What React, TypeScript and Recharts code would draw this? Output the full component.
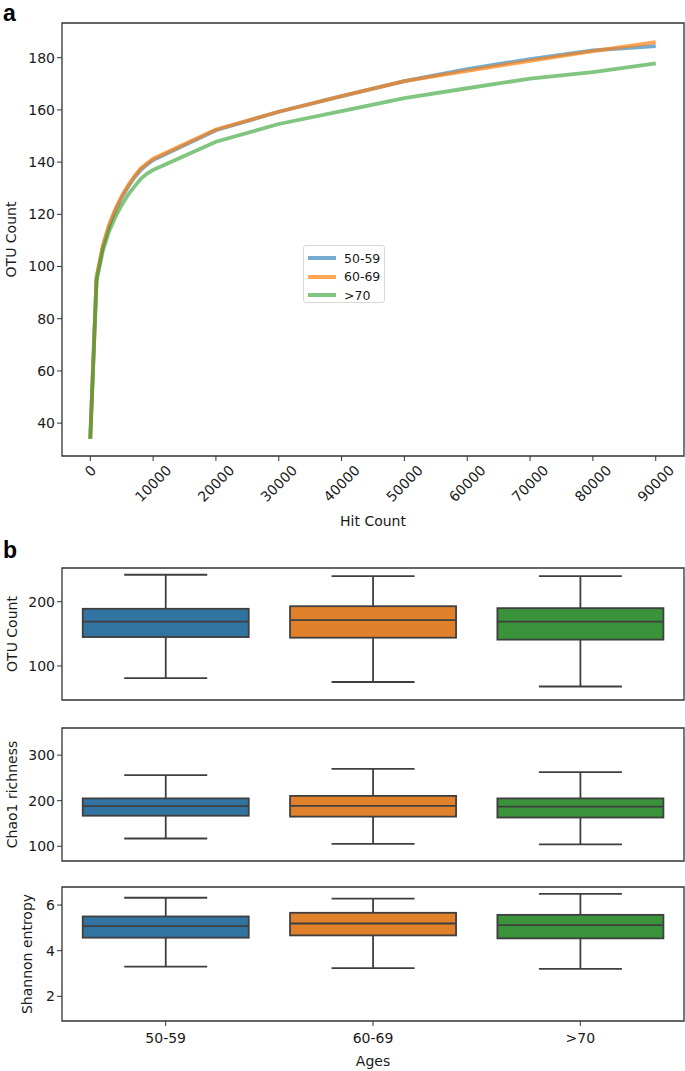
import React from 'react';
import {
  LineChart, Line, XAxis, YAxis, ReferenceArea, Legend,
  ComposedChart, Bar, Label,
} from 'recharts';

// ---------- Panel a: rarefaction curves ----------
const hitCounts = [0, 1000, 2000, 3000, 4000, 5000, 6000, 7000, 8000, 9000, 10000,
  20000, 30000, 40000, 50000, 60000, 70000, 80000, 90000];
const otu5059 = [34, 95.5, 107.5, 115.5, 121.5, 126.5, 130.5, 134, 137, 139, 140.8,
  152.2, 159.3, 165.3, 171, 175.6, 179.5, 182.8, 184.4];
const otu6069 = [34, 96, 108, 116, 122, 127, 131, 134.5, 137.5, 139.5, 141.3,
  152.5, 159.3, 165.3, 171, 175, 178.8, 182.5, 186];
const otu70 = [34, 94.5, 106, 113.5, 119, 123.5, 127.5, 130.5, 133.5, 135.5, 137,
  147.8, 154.6, 159.5, 164.5, 168.3, 172, 174.5, 177.8];
const hitTicks = [0, 10000, 20000, 30000, 40000, 50000, 60000, 70000, 80000, 90000];
const otuTicksA = [40, 60, 80, 100, 120, 140, 160, 180];
const seriesNames = ['50-59', '60-69', '>70'];

// ---------- Panel b: box plots ----------
const ageGroups = ['50-59', '60-69', '>70'];
const otuLow = [81, 75, 68];
const otuQ1 = [145, 144, 141];
const otuMedian = [169, 171.4, 169];
const otuQ3 = [189, 193, 190];
const otuHigh = [242, 240, 240];
const otuTicksB = [100, 200];

const chaoLow = [117, 105, 104];
const chaoQ1 = [167, 165, 163];
const chaoMedian = [188, 188.5, 187];
const chaoQ3 = [205, 210.5, 205];
const chaoHigh = [256, 270, 262.5];
const chaoTicks = [100, 200, 300];

const shanLow = [3.3, 3.24, 3.2];
const shanQ1 = [4.57, 4.67, 4.54];
const shanMedian = [5.08, 5.19, 5.12];
const shanQ3 = [5.5, 5.66, 5.57];
const shanHigh = [6.32, 6.28, 6.49];
const shanTicks = [2, 4, 6];

// ---------- styles ----------
const FONT = 'DejaVu Sans';
const FS = 14;
const TXT = '#1a1a1a';
const EDGE = '#333333';
const lineColors = ['#1f77b4', '#ff7f0e', '#2ca02c'];
const lineOpacity = [0.62, 0.7, 0.6];
const boxColors = ['#3274a1', '#e1812c', '#3a923a'];
const BOX_EDGE = '#3f3f3f';

const lineData = hitCounts.map((h, i) => ({
  hit: h, a: otu5059[i], b: otu6069[i], c: otu70[i],
}));

function buildBoxData(low: number[], q1: number[], med: number[], q3: number[], high: number[]) {
  return ageGroups.map((g, i) => ({
    age: g,
    range: [low[i], high[i]],
    stats: [low[i], q1[i], med[i], q3[i], high[i]],
  }));
}

const otuData = buildBoxData(otuLow, otuQ1, otuMedian, otuQ3, otuHigh);
const chaoData = buildBoxData(chaoLow, chaoQ1, chaoMedian, chaoQ3, chaoHigh);
const shanData = buildBoxData(shanLow, shanQ1, shanMedian, shanQ3, shanHigh);

const BoxShape = (props: any) => {
  const { x, y, width, height, index, payload } = props;
  if (!payload || x == null) return null;
  const [lo, q1, med, q3, hi] = payload.stats;
  const top = Math.min(y, y + height);
  const bot = Math.max(y, y + height);
  const py = (v: number) => bot - ((bot - top) * (v - lo)) / (hi - lo);
  const cx = x + width / 2;
  const capHalf = width / 4;
  const sw = 1.8;
  return (
    <g>
      <line x1={cx} x2={cx} y1={py(hi)} y2={py(q3)} stroke={BOX_EDGE} strokeWidth={sw} />
      <line x1={cx} x2={cx} y1={py(q1)} y2={py(lo)} stroke={BOX_EDGE} strokeWidth={sw} />
      <line x1={cx - capHalf} x2={cx + capHalf} y1={py(hi)} y2={py(hi)} stroke={BOX_EDGE} strokeWidth={sw} />
      <line x1={cx - capHalf} x2={cx + capHalf} y1={py(lo)} y2={py(lo)} stroke={BOX_EDGE} strokeWidth={sw} />
      <rect x={x} y={py(q3)} width={width} height={py(q1) - py(q3)}
        fill={boxColors[index % boxColors.length]} stroke={BOX_EDGE} strokeWidth={sw} />
      <line x1={x} x2={x + width} y1={py(med)} y2={py(med)} stroke={BOX_EDGE} strokeWidth={sw} />
    </g>
  );
};

const RotatedTick = (props: any) => {
  const { x, y, payload } = props;
  const s = String(payload.value);
  const w = s.length * 0.636 * FS;
  const h = (w + FS * 0.75) * Math.SQRT1_2;
  return (
    <text
      transform={`translate(${x},${y + h / 2}) rotate(-45)`}
      textAnchor="middle"
      dominantBaseline="central"
      fontFamily={FONT}
      fontSize={FS}
      fill={TXT}
    >
      {s}
    </text>
  );
};

const yTitle = (text: string, cx: number) => (p: any) => {
  const vb = p.viewBox || {};
  const cy = (vb.y || 0) + (vb.height || 0) / 2;
  return (
    <text
      transform={`translate(${cx},${cy}) rotate(-90)`}
      textAnchor="middle"
      dominantBaseline="central"
      fontFamily={FONT}
      fontSize={FS}
      fill={TXT}
    >
      {text}
    </text>
  );
};

const xTitle = (text: string, dy: number) => (p: any) => {
  const vb = p.viewBox || {};
  const cx = (vb.x || 0) + (vb.width || 0) / 2;
  return (
    <text
      x={cx}
      y={(vb.y || 0) + dy}
      textAnchor="middle"
      dominantBaseline="central"
      fontFamily={FONT}
      fontSize={FS}
      fill={TXT}
    >
      {text}
    </text>
  );
};

const LegendBox = () => (
  <div
    style={{
      width: 82,
      height: 58,
      border: '1px solid #d9d9d9',
      borderRadius: 3,
      background: 'rgba(255,255,255,0.8)',
      boxSizing: 'border-box',
      padding: '3px 0 0 4px',
      fontFamily: FONT,
      fontSize: 12.5,
      color: TXT,
    }}
  >
    {seriesNames.map((n, i) => (
      <div key={n} style={{ display: 'flex', alignItems: 'center', height: 18.5 }}>
        <div
          style={{
            width: 28,
            height: 4,
            background: lineColors[i],
            opacity: lineOpacity[i],
            marginRight: 8,
          }}
        />
        <span>{n}</span>
      </div>
    ))}
  </div>
);

const tickStyle = { fontFamily: FONT, fontSize: FS, fill: TXT };

function BoxPanel(props: {
  data: any[]; domain: [number, number]; ticks: number[]; title: string; titleX: number;
  top: number; height: number; showX: boolean;
}) {
  const { data, domain, ticks, title, titleX, top, height, showX } = props;
  return (
    <div style={{ position: 'absolute', left: 0, top, width: 685, height }}>
      <ComposedChart
        width={685}
        height={height}
        data={data}
        margin={{ top: 8, right: 1, bottom: showX ? 0 : 1, left: 0 }}
        barCategoryGap="10%"
      >
        <XAxis
          dataKey="age"
          hide={!showX}
          height={showX ? 50 : 0}
          axisLine={false}
          tickLine={{ stroke: EDGE }}
          tickSize={5}
          tickMargin={7}
          tick={tickStyle}
        >
          {showX ? <Label content={xTitle('Ages', 40)} /> : null}
        </XAxis>
        <YAxis
          type="number"
          domain={domain}
          ticks={ticks}
          allowDataOverflow
          width={62}
          axisLine={false}
          tickLine={{ stroke: EDGE }}
          tickSize={5}
          tick={tickStyle}
        >
          <Label content={yTitle(title, titleX)} />
        </YAxis>
        <Bar dataKey="range" shape={<BoxShape />} isAnimationActive={false} />
        <ReferenceArea
          y1={domain[0]}
          y2={domain[1]}
          fill="none"
          stroke={EDGE}
          strokeWidth={1.3}
          ifOverflow="visible"
        />
      </ComposedChart>
    </div>
  );
}

const letterStyle: React.CSSProperties = {
  position: 'absolute',
  left: 3,
  fontFamily: 'Liberation Sans',
  fontWeight: 'bold',
  fontSize: 23,
  lineHeight: 'normal',
  color: '#000',
};

export default function App() {
  const xDom: [number, number] = [-4500, 94500];
  const yDom: [number, number] = [27.4, 193.3];
  return (
    <div style={{ position: 'absolute', left: 0, top: 0, width: 685, height: 1071, background: '#fff' }}>
      <div style={{ ...letterStyle, top: 0 }}>a</div>
      <div style={{ ...letterStyle, top: 537 }}>b</div>

      <div style={{ position: 'absolute', left: 0, top: 0, width: 685, height: 535 }}>
        <LineChart width={685} height={535} data={lineData} margin={{ top: 23, right: 1, bottom: 4, left: 0 }}>
          <XAxis
            dataKey="hit"
            type="number"
            domain={xDom}
            ticks={hitTicks}
            allowDataOverflow
            height={75}
            axisLine={false}
            tickLine={{ stroke: EDGE }}
            tickSize={5}
            tickMargin={3}
            tick={<RotatedTick />}
            interval={0}
          >
            <Label content={xTitle('Hit Count', 65)} />
          </XAxis>
          <YAxis
            type="number"
            domain={yDom}
            ticks={otuTicksA}
            allowDataOverflow
            width={62}
            axisLine={false}
            tickLine={{ stroke: EDGE }}
            tickSize={5}
            tick={tickStyle}
          >
            <Label content={yTitle('OTU Count', 11)} />
          </YAxis>
          <ReferenceArea
            x1={xDom[0]} x2={xDom[1]} y1={yDom[0]} y2={yDom[1]}
            fill="none" stroke={EDGE} strokeWidth={1.3} ifOverflow="visible"
          />
          <Line dataKey="a" name={seriesNames[0]} type="linear" stroke={lineColors[0]} strokeOpacity={lineOpacity[0]} strokeWidth={3.8} dot={false} isAnimationActive={false} />
          <Line dataKey="b" name={seriesNames[1]} type="linear" stroke={lineColors[1]} strokeOpacity={lineOpacity[1]} strokeWidth={3.8} dot={false} isAnimationActive={false} />
          <Line dataKey="c" name={seriesNames[2]} type="linear" stroke={lineColors[2]} strokeOpacity={lineOpacity[2]} strokeWidth={3.8} dot={false} isAnimationActive={false} />
          <Legend
            layout="horizontal"
            verticalAlign="middle"
            align="center"
            content={<LegendBox />}
            wrapperStyle={{ position: 'absolute', left: 303, top: 245, width: 82, height: 58 }}
          />
        </LineChart>
      </div>

      <BoxPanel data={otuData} domain={[47, 252.5]} ticks={otuTicksB} title="OTU Count" titleX={12} top={560} height={141} showX={false} />
      <BoxPanel data={chaoData} domain={[67.6, 359.5]} ticks={chaoTicks} title="Chao1 richness" titleX={12} top={720} height={142} showX={false} />
      <BoxPanel data={shanData} domain={[0.92, 6.79]} ticks={shanTicks} title="Shannon entropy" titleX={27} top={879} height={192} showX={true} />
    </div>
  );
}
